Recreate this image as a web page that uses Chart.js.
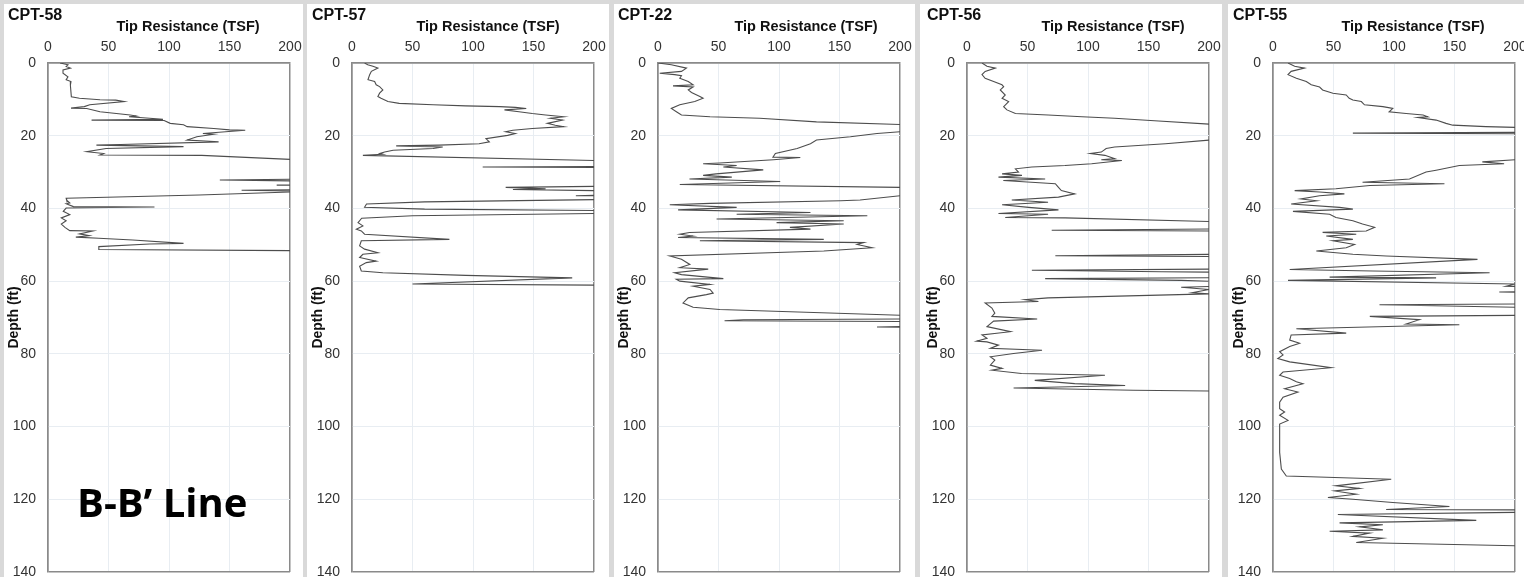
<!DOCTYPE html>
<html>
<head>
<meta charset="utf-8">
<script src="https://cdn.jsdelivr.net/npm/chart.js@4.4.1/dist/chart.umd.min.js"></script>
<style>
  html, body { margin: 0; padding: 0; }
  body { width: 1524px; height: 577px; overflow: hidden; position: relative; background: #d9d9d9; font-family: "Liberation Sans", Arial, sans-serif; }
  .panel { position: absolute; top: 4px; bottom: 0; background: #fff; }
  canvas { position: absolute; top: 0; }
  .cpt { position: absolute; top: 7px; font-size: 16px; font-weight: bold; line-height: 1; color: #111; white-space: nowrap; }
  .axt { position: absolute; top: 19px; font-size: 14.5px; font-weight: bold; line-height: 1; color: #111; white-space: nowrap; transform: translateX(-50%); }
  .note { position: absolute; left: 77px; top: 482px; font-family: "Open Sans", sans-serif; font-size: 40px; font-weight: bold; line-height: 1; color: #000; white-space: nowrap; }
</style>
</head>
<body>
<script>
// CPT profiles: [depth (ft), tip resistance (TSF)], values above 200 run off the chart
const cpt58 = [[0,10],[0.5,16.5],[1,15],[1.4,18.5],[1.9,12.4],[2.8,12.4],[3.8,16.5],[4.6,15],[5.1,19],[6.1,18.5],[9.3,19.3],[9.7,26],[10.1,43],[10.2,56],[10.6,63],[11.5,34.5],[12,30],[12.4,19],[12.5,32],[13.4,43],[14.3,68],[14.6,73],[14.8,67],[15.2,84],[15.5,95],[15.7,36],[15.8,96],[16.6,101],[17,112],[17.5,115],[18,137],[18.4,150],[18.5,163],[19.4,128],[19.6,137],[20.3,123],[21.2,115],[21.7,141],[22.4,60],[22.6,40],[23,112],[23.5,48],[24.4,32],[24.9,46],[25.3,43],[25.4,127],[26.5,200],[27.5,260],[31.8,250],[32.2,142],[32.6,250],[33.3,250],[33.6,189],[33.9,240],[34.7,240],[35,160],[35.3,215],[36.3,125],[37.2,15],[37.7,15.4],[38.5,18],[38.7,15],[39.5,21],[39.6,88],[39.9,15],[40.8,12.6],[41.7,18],[42.6,11],[43.4,15],[44.3,11],[45.2,14],[46.1,18],[46.2,37],[47,26],[47.5,34],[47.9,23],[48.2,42],[48.7,70],[49.6,112],[49.8,84],[50.5,42],[51.3,42],[51.6,200],[51.8,230]];

const cpt57 = [[0,10.4],[0.5,13],[0.9,17.3],[1.4,21.4],[2.3,16],[3.2,14.6],[4.6,13.2],[5.1,18.7],[6,20],[6.5,22.8],[7.4,25.5],[8.3,22.8],[9.2,21.4],[9.7,24],[10.6,29.7],[11.1,39],[11.5,67],[11.8,94],[12,122],[12.2,135],[12.5,144],[12.9,126],[13.4,138],[13.9,149],[14.3,160],[14.8,175],[15.2,164],[15.7,174],[16.6,161.5],[17.1,168],[17.5,175],[18,149],[18.5,133],[18.9,127],[19.4,135],[19.9,128.6],[20.8,110.7],[21.7,113.5],[22.2,105],[22.6,72],[22.8,36.5],[23.1,75],[23.5,67],[24,34],[24.5,27],[24.9,23],[25.1,25.5],[25.4,9],[26.8,200],[27.5,250],[28.4,240],[28.6,108],[28.8,240],[33.8,240],[34.2,127],[34.6,160],[34.8,133],[35.1,200],[35.5,250],[36.2,240],[36.5,185],[36.8,240],[37.5,220],[38.2,60],[38.8,12],[39.7,10.4],[40.2,60],[40.6,220],[41.3,220],[42,50],[42.7,8],[43.9,5],[44.8,9],[45.7,3.6],[46.2,7.7],[47.1,10.4],[48.5,80.5],[48.9,7.7],[50.3,6.3],[51.2,10.4],[52.2,21.4],[52.6,9],[53.5,6.3],[54.5,20],[54.9,11.8],[55.9,6.3],[57.2,7.7],[57.7,25.5],[58.4,94],[59.1,182],[60.8,50],[61.1,200],[61.3,230]];

const cpt22 = [[0,0],[0.5,11],[1.4,23.5],[2.3,19.4],[2.8,1.4],[3.2,13.8],[3.5,19.4],[4.2,18],[5.1,25],[6,29],[6.3,12.4],[6.6,29],[7.4,25],[8.1,27.7],[9.2,34.6],[9.7,37.3],[10.6,30.4],[11.5,18],[12.5,11],[13.4,15.2],[14.3,19.4],[14.8,43],[15.2,84],[16.2,131],[16.9,200],[17.5,250],[18.5,250],[18.9,200],[19.4,181],[20.3,159],[21.2,131],[22.2,126],[23.5,115],[24.9,97],[25.9,95],[26,117.6],[26.6,95.4],[27.5,51],[27.7,37.3],[28.2,65],[28.6,54],[29.4,87],[30.5,48],[30.9,37.3],[31.4,61],[31.9,26],[32.6,101],[33.4,18],[34.2,200],[34.8,250],[36,250],[36.5,200],[37.7,167],[37.9,151],[38.6,43],[39,9.7],[39.7,65],[40.4,16.6],[41.1,126],[41.6,65],[42,173],[42.9,48.4],[43.4,153.5],[43.9,98],[44.3,153.5],[45.2,109],[45.7,126],[46.6,26],[47.1,18],[47.6,29],[48,16.6],[48.5,137],[48.9,34.6],[49.4,170],[49.9,164.6],[50.8,177],[51.7,137],[53.1,9.7],[54,19.4],[55.4,26.3],[56.3,18],[56.7,41.5],[57.7,13.8],[58.2,19.4],[59.3,54],[59.5,15.2],[60,18],[60.9,43],[61.4,29],[62.3,43],[63.3,45.6],[63.7,40],[64.6,25],[66,20.7],[67.2,29],[67.8,51],[69.4,200],[70,250],[70.4,200],[70.6,70.5],[70.9,55],[71.1,200],[71.6,250],[72.3,250],[72.6,181],[72.9,230]];

const cpt56 = [[0,12.4],[0.9,16.5],[1.4,23.4],[2.3,15],[3.2,12.4],[4.2,15],[5.1,22],[6,28.9],[6.5,30.3],[7.4,27.5],[8.8,31.6],[9.7,29],[10.6,34.4],[12,30.3],[12.9,33],[13.9,40],[14.3,67],[14.8,95],[15.2,122],[15.9,155],[16.8,200],[17.5,250],[20.5,250],[21.2,200],[22.2,164],[23.1,122],[23.5,115],[24.5,111],[24.9,102],[25.4,114],[26.3,122],[26.6,111],[26.8,128],[27.7,103],[28.2,81],[28.6,53.6],[29.1,40],[30,42.6],[30.5,29],[30.9,45.4],[31.4,26],[31.9,64.6],[32.3,30],[33.2,73],[34.2,75.6],[35.1,78],[36,89],[36.9,75.6],[37.7,37],[38.3,67],[39,29],[39.7,51],[40.4,75.6],[41.4,26],[41.6,67],[42.5,31.6],[42.6,81],[43.6,200],[44.2,250],[45.5,250],[46,70],[46.3,250],[52.5,250],[53,73],[53.3,250],[56.6,250],[57,53.6],[57.4,161],[57.7,250],[59,250],[59.3,64.6],[59.8,177],[60.5,250],[61.2,230],[61.7,177],[62.3,200],[63.2,186],[63.5,200],[64.6,67],[65.1,48],[65.6,59],[66,15],[67.4,20.6],[68.8,23],[69.7,20.6],[70.4,58],[71,22],[72.5,16.5],[73.9,36],[74.8,12.4],[75.7,16.5],[76.5,8],[76.7,16.5],[77.6,26],[78.5,19.3],[79,62],[79.9,38.5],[80.8,19.3],[81.7,23],[83.1,19.3],[84,29],[84.5,20.6],[85.4,45],[85.9,114],[87.3,56],[88.2,89],[88.7,130.7],[89.4,38.5],[90,137.5],[90.2,200],[90.4,230]];

const cpt55 = [[0,12.4],[0.9,17.9],[1.4,26],[2.3,15],[3.2,12.4],[4.2,19.3],[5.1,27.5],[6,31.6],[6.6,38.5],[7.4,41],[8.3,49.5],[8.8,60.5],[9.7,63],[10.2,66],[10.6,73],[11.5,75.6],[12,90.8],[12.5,99],[13.4,96],[13.9,110],[14.3,124],[14.8,128],[15,119.7],[15.7,134.8],[16.6,143],[17.1,148.6],[17.5,176],[17.7,200],[18.2,250],[19,250],[19.3,66],[19.5,250],[26,250],[26.6,200],[27.2,173],[27.7,191],[28.2,154],[29.5,134.8],[30,126.5],[31.9,112.8],[32.8,74],[33.2,141.7],[33.7,80],[34.6,52],[35.1,17.9],[35.5,38.5],[36,59],[36.5,38.5],[37.4,23],[37.9,36],[38.8,15],[39.7,55],[40.2,66],[40.8,16.5],[41.6,46.8],[42.5,52],[43.4,66],[44.3,74],[45.2,84],[46.2,77],[46.6,41],[47.1,68.8],[47.6,44],[48.5,66],[48.9,49.5],[49.9,67.4],[50.8,60.5],[51.7,35.8],[52.6,66],[53.1,93.5],[54,169],[56.8,13.8],[57.2,82.5],[57.7,179],[58.9,46.8],[59.1,134.8],[59.8,12.4],[60.8,200],[61.4,192.6],[61.8,250],[62.7,250],[63,187],[63.3,250],[66.2,250],[66.5,88],[67.2,200],[67.8,250],[69.3,250],[69.7,80],[70.6,121],[71.8,110],[72,154],[73.1,19.3],[74.3,60.5],[74.8,15],[76.2,13.8],[77.1,22],[78,13.8],[79.4,5.5],[80.3,8.3],[81.3,4],[82.2,13.8],[83.8,48],[85,8.3],[85.9,5.5],[86.8,13.8],[87.7,19.3],[88.2,24.7],[89.6,9.6],[90.5,20.6],[91.9,8.3],[93.3,5.5],[95.1,5.5],[96,9.6],[96.9,5.5],[98.3,12.4],[99.3,5.5],[102.5,5.5],[107.1,5.5],[111.7,6.9],[113.6,11],[114.5,97.7],[116.3,52],[117,71.5],[117.7,51],[118.6,68.8],[119.5,45.4],[120,66],[120.9,99],[122,145.8],[122.8,93.5],[122.9,200],[123.2,250],[123.6,200],[124.2,53.6],[125.8,168],[126.5,55],[127,90.8],[127.6,71.5],[128.4,90.8],[128.8,46.8],[129.3,79.8],[130.2,66],[130.7,90.8],[131.9,68.8],[132.8,200],[133,230]];

const cptNames = ['CPT-58', 'CPT-57', 'CPT-22', 'CPT-56', 'CPT-55'];
const cptData = [cpt58, cpt57, cpt22, cpt56, cpt55];
const tipRange = [0, 200];
const depthRange = [0, 140];

// page layout (pixels)
const panelBoxes = [[4, 303], [307, 609], [614, 915], [920, 1222], [1228, 1524]];
const plotLefts = [48, 352, 658, 967, 1273];
const titleDx = [140, 136, 148, 146, 140];
const AXIS_W = 48, PLOT_W = 242, PAD_R = 14, PLOT_TOP = 63, PLOT_BOTTOM = 572, X_AXIS_H = 22;

const edgeColor = '#8a8a8a';
const gridColor = '#e8edf2';

function isEdge(ctx) {
  const v = ctx.tick ? ctx.tick.value : null;
  return v === tipRange[0] || v === tipRange[1] || v === depthRange[1];
}

panelBoxes.forEach(function(b) {
  const p = document.createElement('div');
  p.className = 'panel';
  p.style.left = b[0] + 'px';
  p.style.width = (b[1] - b[0]) + 'px';
  document.body.appendChild(p);
});

cptData.forEach(function(rows, i) {
  const cv = document.createElement('canvas');
  cv.width = AXIS_W + PLOT_W + PAD_R;
  cv.height = 580;
  cv.style.left = (plotLefts[i] - AXIS_W) + 'px';
  document.body.appendChild(cv);

  const name = document.createElement('div');
  name.className = 'cpt';
  name.textContent = cptNames[i];
  name.style.left = (plotLefts[i] - 40) + 'px';
  document.body.appendChild(name);

  const axt = document.createElement('div');
  axt.className = 'axt';
  axt.textContent = 'Tip Resistance (TSF)';
  axt.style.left = (plotLefts[i] + titleDx[i]) + 'px';
  document.body.appendChild(axt);

  new Chart(cv, {
    type: 'scatter',
    data: {
      datasets: [{
        data: rows.map(r => ({ x: r[1], y: r[0] })),
        showLine: true,
        borderColor: '#4d4d4d',
        borderWidth: 1.1,
        pointRadius: 0,
        tension: 0,
        clip: 0
      }]
    },
    options: {
      responsive: false,
      animation: false,
      devicePixelRatio: 1,
      events: [],
      layout: { padding: { top: PLOT_TOP - X_AXIS_H, right: PAD_R, bottom: cv.height - PLOT_BOTTOM, left: 0 } },
      plugins: { legend: { display: false }, tooltip: { enabled: false } },
      scales: {
        x: {
          type: 'linear',
          position: 'top',
          min: tipRange[0],
          max: tipRange[1],
          ticks: { stepSize: 50, padding: 7, color: '#333', font: { size: 14, family: '"Liberation Sans", Arial' } },
          grid: { drawTicks: false, color: ctx => isEdge(ctx) ? edgeColor : gridColor, lineWidth: ctx => isEdge(ctx) ? 1.5 : 1 },
          border: { color: edgeColor, width: 1.5 },
          afterFit: function(s) { s.height = X_AXIS_H; s.paddingLeft = 0; s.paddingRight = 0; }
        },
        y: {
          type: 'linear',
          reverse: true,
          min: depthRange[0],
          max: depthRange[1],
          ticks: { stepSize: 20, padding: 12, color: '#333', font: { size: 14, family: '"Liberation Sans", Arial' } },
          grid: { drawTicks: false, color: ctx => isEdge(ctx) ? edgeColor : gridColor, lineWidth: ctx => isEdge(ctx) ? 1.5 : 1 },
          border: { color: edgeColor, width: 1.5 },
          title: { display: true, text: 'Depth (ft)', color: '#111', padding: { top: 6, bottom: 0 }, font: { size: 14, weight: 'bold', family: '"Liberation Sans", Arial' } },
          afterFit: function(s) { s.width = AXIS_W; s.paddingTop = 0; s.paddingBottom = 0; }
        }
      }
    }
  });
});

const note = document.createElement('div');
note.className = 'note';
note.textContent = 'B-B\u2019 Line';
document.body.appendChild(note);
</script>
</body>
</html>
